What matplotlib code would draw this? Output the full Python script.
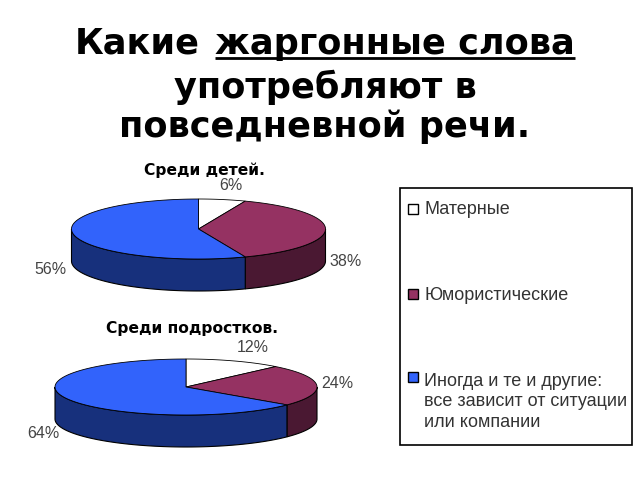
import numpy as np
import matplotlib
matplotlib.use('Agg')
import matplotlib.pyplot as plt
from matplotlib.patches import Polygon, Rectangle

title_lines = ['употребляют в', 'повседневной речи.']
kids_values = [6, 38, 56]
teen_values = [12, 24, 64]
kids_labels = ['6%', '38%', '56%']
teen_labels = ['12%', '24%', '64%']
legend_items = ['Матерные', 'Юмористические', 'Иногда и те и другие:\nвсе зависит от ситуации\nили компании']

top_colors = ['#ffffff', '#953262', '#3263fb']
side_colors = ['#808080', '#4a1832', '#17307c']


def ell(cx, cy, rx, ry, a):
    # angle is clockwise from 12 o'clock
    return cx + rx * np.sin(a), cy - ry * np.cos(a)


def pie3d(ax, values, cx, cy, rx, ry, depth):
    fracs = np.cumsum([0] + list(values)) / float(sum(values))
    angles = fracs * 2 * np.pi
    # side wall first, only the front half can be seen
    for i in range(len(values)):
        a0 = max(angles[i], np.pi / 2)
        a1 = min(angles[i + 1], 3 * np.pi / 2)
        if a1 <= a0:
            continue
        t = np.linspace(a0, a1, 80)
        x, y = ell(cx, cy, rx, ry, t)
        pts = np.r_[np.c_[x, y], np.c_[x[::-1], y[::-1] + depth]]
        ax.add_patch(Polygon(pts, closed=True, fc=side_colors[i], ec='black', lw=0.8))
    for i in range(len(values)):
        t = np.linspace(angles[i], angles[i + 1], 120)
        x, y = ell(cx, cy, rx, ry, t)
        pts = np.r_[[[cx, cy]], np.c_[x, y]]
        ax.add_patch(Polygon(pts, closed=True, fc=top_colors[i], ec='black', lw=0.6))


fig = plt.figure(figsize=(6.4, 4.8), dpi=100)
ax = fig.add_axes([0, 0, 1, 1])
ax.set_xlim(0, 640)
ax.set_ylim(480, 0)
ax.axis('off')

# title
ts = 25.3
ax.text(75, 44, 'Какие', fontsize=ts, fontweight='bold', family='DejaVu Sans', ha='left', va='center', color='black')
ax.text(575, 44, 'жаргонные слова', fontsize=ts, fontweight='bold', family='DejaVu Sans', ha='right', va='center', color='black')
ax.plot([215, 575], [58, 58], color='black', lw=2, solid_capstyle='butt')
ax.text(325, 87, title_lines[0], fontsize=ts, fontweight='bold', family='DejaVu Sans', ha='center', va='center')
ax.text(325, 127, title_lines[1], fontsize=ts, fontweight='bold', family='DejaVu Sans', ha='center', va='center')

# subtitles
ax.text(204.5, 170, 'Среди детей.', fontsize=11.2, fontweight='bold', family='DejaVu Sans', ha='center', va='center')
ax.text(192.5, 328, 'Среди подростков.', fontsize=11.2, fontweight='bold', family='DejaVu Sans', ha='center', va='center')

pie3d(ax, kids_values, 198.5, 229, 127, 30, 32)
pie3d(ax, teen_values, 186, 387, 131, 28, 32)

pct = dict(fontsize=11.5, family='Liberation Sans', color='#444444', ha='center', va='center')
ax.text(230.5, 186, kids_labels[0], **pct)
ax.text(346, 262, kids_labels[1], **pct)
ax.text(50, 270, kids_labels[2], **pct)
ax.text(253, 348, teen_labels[0], **pct)
ax.text(337, 384, teen_labels[1], **pct)
ax.text(43, 433, teen_labels[2], **pct)

# legend box
ax.add_patch(Rectangle((400, 188), 232, 257, fc='white', ec='black', lw=1.2))
for y, c, lab, ty in zip([209, 294, 377], top_colors, legend_items, [210, 295, 402]):
    ax.add_patch(Rectangle((408, y - 5), 10, 10, fc=c, ec='black', lw=1))
    ax.text(424, ty, lab, fontsize=13, family='Liberation Sans', color='#333333',
            ha='left', va='center', linespacing=1.28)

fig.savefig('out.png', dpi=100)
